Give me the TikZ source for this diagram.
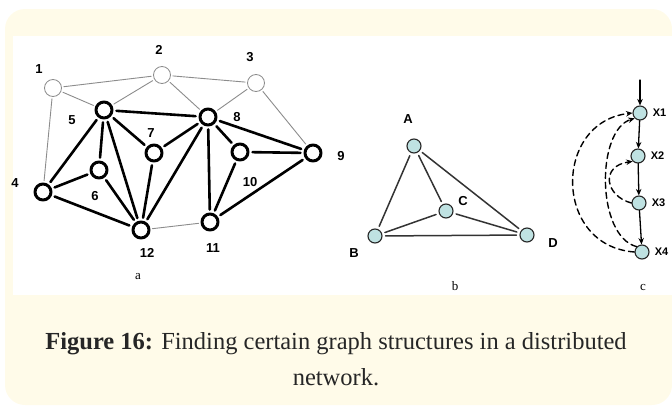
\documentclass[tikz,border=0pt]{standalone}
\usepackage{fontspec}
\usetikzlibrary{arrows.meta}
\setmainfont{Liberation Serif}
\setsansfont{Liberation Sans}
\definecolor{cream}{HTML}{FFFBE9}
\definecolor{nodecyan}{HTML}{BFE2E2}
\definecolor{thingray}{HTML}{8C8C8C}
\begin{document}
\begin{tikzpicture}[x=1pt, y=-1pt, line join=round, line cap=round, >={Stealth[length=6.5pt, width=5.5pt]},
    light/.style={circle, draw=thingray, line width=.8pt, fill=white, minimum size=17pt, inner sep=0pt},
    heavy/.style={circle, draw=black, line width=3pt, fill=white, minimum size=16pt, inner sep=0pt},
    cyannode/.style={circle, draw=black!85, line width=1.1pt, fill=nodecyan, minimum size=14pt, inner sep=0pt},
    thinedge/.style={draw=thingray, line width=.9pt},
    thickedge/.style={draw=black, line width=2.6pt},
    tri/.style={draw=black!80, line width=1.5pt},
    num/.style={font=\sffamily\bfseries\fontsize{13}{13}\selectfont, inner sep=0pt},
    xnum/.style={font=\sffamily\bfseries\fontsize{11}{11}\selectfont, inner sep=0pt, anchor=west},
    sub/.style={font=\fontsize{13}{13}\selectfont, inner sep=0pt}]
    \useasboundingbox (0,0) rectangle (672,410);
    \fill[cream, rounded corners=20pt] (5,9) rectangle (672,405);
    \fill[white] (13,36) rectangle (672,295);
    % a
    \foreach \n/\x/\y in {1/53/88, 2/162/75, 3/256/83}
        \node[light] (n\n) at (\x,\y) {};
    \foreach \n/\x/\y in {4/43/192, 5/104/110, 6/99/170, 7/154/153, 8/208/117, 9/313/153, 10/240/152, 11/210/222, 12/141/230}
        \node[heavy] (n\n) at (\x,\y) {};
    \foreach \a/\b in {1/2, 2/3, 1/5, 2/5, 2/8, 3/8, 3/9, 1/4, 12/11}
        \draw[thinedge, shorten <=2pt, shorten >=2pt] (n\a) -- (n\b);
    \foreach \a/\b in {5/8, 5/4, 5/6, 5/12, 5/7, 6/4, 6/12, 4/12, 7/8, 7/12, 8/12, 8/11, 8/10, 8/9, 10/9, 10/11, 11/9}
        \draw[thickedge, shorten <=3pt, shorten >=3pt] (n\a) -- (n\b);
    \foreach \n/\x/\y in {1/39/69, 2/159/50, 3/250/57, 4/15/183, 5/72/120, 6/95/196, 7/151/133, 8/237/117, 9/341/156, 10/250/182, 11/213/248, 12/147/253}
        \node[num] (t\n) at (\x,\y) {\n};
    \node[sub] (suba) at (138,277) {a};
    % b
    \foreach \n/\x/\y in {A/414/146, B/375/236, C/446/211, D/527/235}
        \node[cyannode] (\n) at (\x,\y) {};
    \foreach \a/\b in {A/B, A/C, A/D, B/C, B/D, C/D}
        \draw[tri, shorten <=3pt, shorten >=3pt] (\a) -- (\b);
    \foreach \n/\x/\y in {A/408/119, B/354/253, C/463/201, D/553/243}
        \node[num] (t\n) at (\x,\y) {\n};
    \node[sub] (subb) at (455,286) {b};
    % c
    \foreach \n/\x/\y in {1/640/113, 2/638/156, 3/639/203, 4/642/252}
        \node[cyannode] (x\n) at (\x,\y) {};
    \foreach \n in {1,...,4}
        \node[xnum] (tx\n) at ([xshift=5pt]x\n.east) {X\n};
    \coordinate (in) at (640,80);
    \draw[->, line width=1.3pt] (in) -- (x1);
    \foreach \a/\b in {1/2, 2/3, 3/4}
        \draw[->, line width=1.3pt] (x\a) -- (x\b);
    \begin{scope}[->, dashed, dash pattern=on 6pt off 4pt, line width=1.4pt]
        \draw (x4.west) .. controls (553,246) and (553,122) .. (x1.west);
        \draw (x4.north west) .. controls (596,236) and (596,130) .. (x1.south west);
        \draw (x3.west) .. controls (605,196) and (600,166) .. (x2.south west);
    \end{scope}
    \node[sub] (subc) at (643,287) {c};
    % caption
    \node[font=\fontsize{24.5}{36}\selectfont, align=center, text=black!85] (cap) at (336,359)
        {\textbf{Figure 16:} Finding certain graph structures in a distributed\\ network.};
\end{tikzpicture}
\end{document}
